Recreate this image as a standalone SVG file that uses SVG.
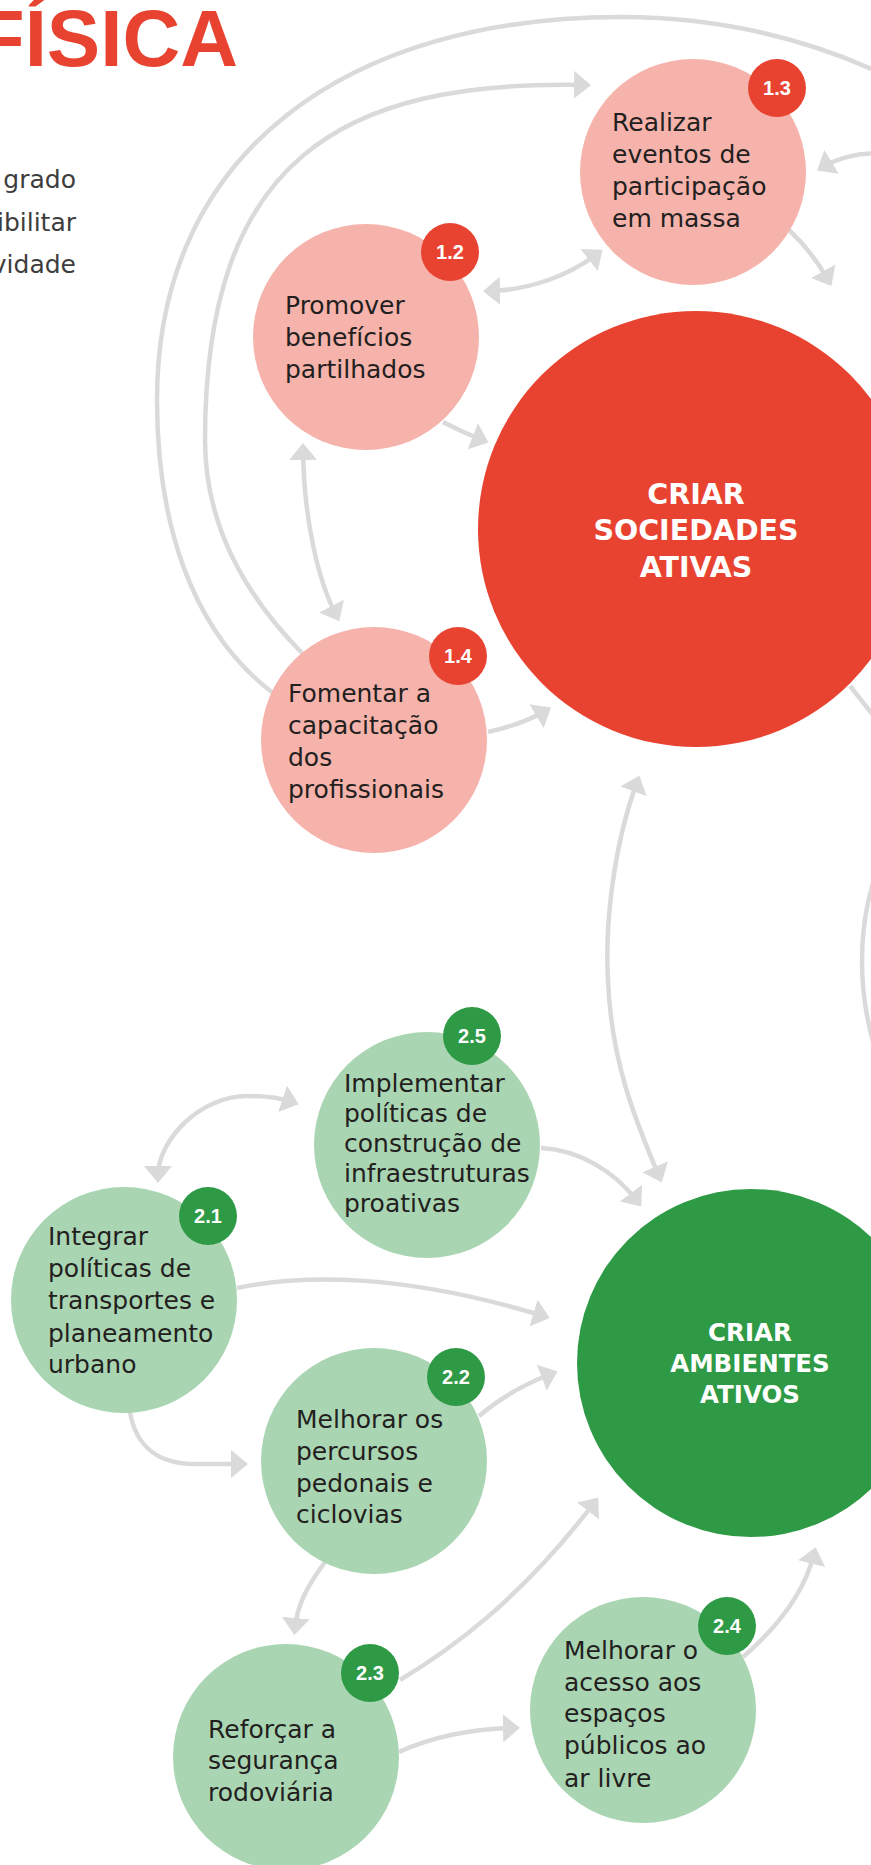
<svg xmlns="http://www.w3.org/2000/svg" width="871" height="1865" viewBox="0 0 871 1865">
<defs>
<marker id="ah" viewBox="0 0 17 28" markerWidth="17" markerHeight="28" refX="10" refY="14" orient="auto-start-reverse" markerUnits="userSpaceOnUse">
<path d="M0,0 L17,14 L0,28 Z" fill="#dadada"/>
</marker>
<style>
.c{fill:none;stroke:#dadada;stroke-width:4.5}
.a{marker-end:url(#ah)}
.b{marker-start:url(#ah);marker-end:url(#ah)}
.lr{fill:#f5b3ab}
.lg{fill:#aad5b3}
.dr{fill:#e84331}
.dg{fill:#2e9a45}
.t{font-family:"DejaVu Sans",sans-serif;font-size:25px;fill:#231f20}
.bt{font-family:"Liberation Sans",Arial,sans-serif;font-weight:bold;font-size:20px;fill:#fff;text-anchor:middle}
.big{font-family:"DejaVu Sans",sans-serif;font-weight:bold;fill:#fff;text-anchor:middle}
.side{font-family:"DejaVu Sans",sans-serif;font-size:25px;fill:#3d3d3d;text-anchor:end}
</style>
</defs>
<rect width="871" height="1865" fill="#fff"/>
<text x="238" y="66" font-family="Liberation Sans, Arial, sans-serif" font-weight="bold" font-size="80" fill="#e84331" text-anchor="end">FÍSICA</text>
<text class="side" x="76" y="188">grado</text>
<text class="side" x="76" y="231">ibilitar</text>
<text class="side" x="76" y="273">vidade</text>
<g id="connectors">
<path class="c" d="M273,693 C190,630 157,520 157,400 C157,150 350,17 621,17 C720,17 810,40 885,75"/>
<path class="c a" d="M302,653 C240,590 205,520 205,440 C205,160 340,80 584,85"/>
<path class="c b" d="M490,291 C530,290 570,275 597,254"/>
<path class="c a" d="M789,230 C805,245 818,262 828,280"/>
<path class="c a" d="M443,422 Q462,432 482,440"/>
<path class="c b" d="M303,450 C304,520 318,580 336,615"/>
<path class="c a" d="M488,732 C510,727 530,720 545,711"/>
<path class="c" d="M850,686 L885,730"/>
<path class="c" d="M874,880 C858,930 858,990 874,1045"/>
<path class="c a" d="M880,154 C860,152 838,158 823,167"/>
<path class="c b" d="M637,782 C612,850 605,930 608,980 C611,1060 635,1120 659,1176"/>
<path class="c a" d="M541,1148 C580,1150 615,1172 637,1201"/>
<path class="c b" d="M158,1176 C158,1140 200,1096 247,1096 C265,1096 280,1098 292,1102"/>
<path class="c a" d="M237,1288 C300,1275 400,1272 543,1316"/>
<path class="c a" d="M130,1412 C136,1448 160,1464 195,1464 L241,1464"/>
<path class="c a" d="M479,1416 C500,1398 525,1384 551,1374"/>
<path class="c a" d="M325,1562 C308,1585 297,1605 295,1628"/>
<path class="c a" d="M400,1680 C450,1650 520,1600 594,1503"/>
<path class="c a" d="M399,1752 C430,1738 470,1729 513,1728"/>
<path class="c a" d="M743,1657 C780,1625 805,1590 814,1554"/>
</g>
<g id="n1">
<circle class="dr" cx="696" cy="529" r="218"/>
<text class="big" font-size="28.5"><tspan x="696" y="504">CRIAR</tspan><tspan x="696" y="540">SOCIEDADES</tspan><tspan x="696" y="577">ATIVAS</tspan></text>
</g>
<g id="n1_3">
<circle class="lr" cx="693" cy="172" r="113"/>
<text class="t"><tspan x="612" y="131">Realizar</tspan><tspan x="612" y="163">eventos de</tspan><tspan x="612" y="195">participação</tspan><tspan x="612" y="227">em massa</tspan></text>
<circle class="dr" cx="777" cy="88" r="29"/>
<text class="bt" x="777" y="95">1.3</text>
</g>
<g id="n1_2">
<circle class="lr" cx="366" cy="337" r="113"/>
<text class="t"><tspan x="285" y="314">Promover</tspan><tspan x="285" y="346">benefícios</tspan><tspan x="285" y="378">partilhados</tspan></text>
<circle class="dr" cx="450" cy="252" r="29"/>
<text class="bt" x="450" y="259">1.2</text>
</g>
<g id="n1_4">
<circle class="lr" cx="374" cy="740" r="113"/>
<text class="t"><tspan x="288" y="702">Fomentar a</tspan><tspan x="288" y="734">capacitação</tspan><tspan x="288" y="766">dos</tspan><tspan x="288" y="798">profissionais</tspan></text>
<circle class="dr" cx="458" cy="656" r="29"/>
<text class="bt" x="458" y="663">1.4</text>
</g>
<g id="n2">
<circle class="dg" cx="751" cy="1363" r="174"/>
<text class="big" font-size="24.5"><tspan x="750" y="1341">CRIAR</tspan><tspan x="750" y="1372">AMBIENTES</tspan><tspan x="750" y="1403">ATIVOS</tspan></text>
</g>
<g id="n2_5">
<circle class="lg" cx="427" cy="1145" r="113"/>
<text class="t"><tspan x="344" y="1092">Implementar</tspan><tspan x="344" y="1122">políticas de</tspan><tspan x="344" y="1152">construção de</tspan><tspan x="344" y="1182">infraestruturas</tspan><tspan x="344" y="1212">proativas</tspan></text>
<circle class="dg" cx="472" cy="1036" r="29"/>
<text class="bt" x="472" y="1043">2.5</text>
</g>
<g id="n2_1">
<circle class="lg" cx="124" cy="1300" r="113"/>
<text class="t"><tspan x="48" y="1245">Integrar</tspan><tspan x="48" y="1277">políticas de</tspan><tspan x="48" y="1309">transportes e</tspan><tspan x="48" y="1342">planeamento</tspan><tspan x="48" y="1373">urbano</tspan></text>
<circle class="dg" cx="208" cy="1216" r="29"/>
<text class="bt" x="208" y="1223">2.1</text>
</g>
<g id="n2_2">
<circle class="lg" cx="374" cy="1461" r="113"/>
<text class="t"><tspan x="296" y="1428">Melhorar os</tspan><tspan x="296" y="1460">percursos</tspan><tspan x="296" y="1492">pedonais e</tspan><tspan x="296" y="1523">ciclovias</tspan></text>
<circle class="dg" cx="456" cy="1377" r="29"/>
<text class="bt" x="456" y="1384">2.2</text>
</g>
<g id="n2_3">
<circle class="lg" cx="286" cy="1757" r="113"/>
<text class="t"><tspan x="208" y="1738">Reforçar a</tspan><tspan x="208" y="1769">segurança</tspan><tspan x="208" y="1801">rodoviária</tspan></text>
<circle class="dg" cx="370" cy="1673" r="29"/>
<text class="bt" x="370" y="1680">2.3</text>
</g>
<g id="n2_4">
<circle class="lg" cx="643" cy="1710" r="113"/>
<text class="t"><tspan x="564" y="1659">Melhorar o</tspan><tspan x="564" y="1691">acesso aos</tspan><tspan x="564" y="1722">espaços</tspan><tspan x="564" y="1754">públicos ao</tspan><tspan x="564" y="1787">ar livre</tspan></text>
<circle class="dg" cx="727" cy="1626" r="29"/>
<text class="bt" x="727" y="1633">2.4</text>
</g>
</svg>
